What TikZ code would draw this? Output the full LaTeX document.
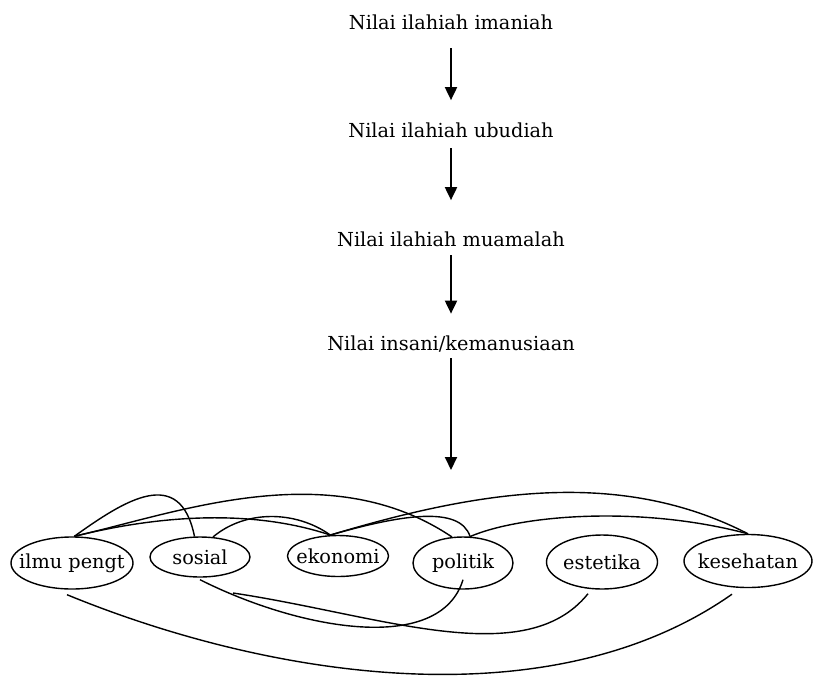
\documentclass[tikz,border=0pt]{standalone}
\usepackage{fontspec}
\setmainfont{DejaVu Serif}
\usetikzlibrary{arrows.meta,shapes.geometric}
\begin{document}
\begin{tikzpicture}[x=1pt,y=-1pt,
  lbl/.style={font=\fontsize{19.3}{23}\selectfont, inner sep=0pt, text=black},
  bubble/.style={ellipse, draw, line width=1.4pt, inner sep=0pt},
  flow/.style={line width=1.9pt, -{Triangle[width=12pt,length=13pt]}},
  link/.style={line width=1.4pt}]
\useasboundingbox (0,0) rectangle (813,675);

% top chain
\node[lbl, anchor=base] (t1) at (451,29) {Nilai ilahiah imaniah};
\node[lbl, anchor=base] (t2) at (451,137) {Nilai ilahiah ubudiah};
\node[lbl, anchor=base] (t3) at (451,246) {Nilai ilahiah muamalah};
\node[lbl, anchor=base] (t4) at (451,350.5) {Nilai insani/kemanusiaan};
\coordinate (aend) at (451,470);

\draw[flow] ([yshift=-19pt]t1.south) -- ([yshift=22pt]t2.north);
\draw[flow] ([yshift=-11pt]t2.south) -- ([yshift=31pt]t3.north);
\draw[flow] ([yshift=-9pt]t3.south) -- ([yshift=22pt]t4.north);
\draw[flow] ([yshift=-6pt]t4.south) -- (aend);

% ellipses
\node[bubble, minimum width=122pt, minimum height=52pt, label={[lbl]center:ilmu pengt}] (ilmu) at (72,563) {};
\node[bubble, minimum width=100pt, minimum height=40pt, label={[lbl]center:sosial}] (sosial) at (200,557) {};
\node[bubble, minimum width=101pt, minimum height=41pt, label={[lbl]center:ekonomi}] (ekonomi) at (338,556) {};
\node[bubble, minimum width=100pt, minimum height=52pt, label={[lbl]center:politik}] (politik) at (463,563) {};
\node[bubble, minimum width=111pt, minimum height=54pt, label={[lbl]center:estetika}] (estetika) at (602,562) {};
\node[bubble, minimum width=128pt, minimum height=53pt, label={[lbl]center:kesehatan}] (kesehatan) at (748,561) {};
\coordinate (sfree) at (233,593);

% upper links
\draw[link] (ilmu.85) .. controls (125,500) and (180,465) .. (sosial.105);
\draw[link] (ilmu.85) .. controls (180,512) and (330,455) .. (politik.113);
\draw[link] (ilmu.85) .. controls (140,520) and (240,505) .. (ekonomi.110);
\draw[link] (sosial.57) .. controls (245,510) and (295,510) .. (ekonomi.110);
\draw[link] (ekonomi.110) .. controls (480,490) and (620,468) .. (kesehatan.north);
\draw[link] (ekonomi.110) .. controls (400,515) and (460,505) .. (politik.75);
\draw[link] (politik.75) .. controls (520,515) and (640,505) .. (kesehatan.north);

% lower links
\draw[link] ([xshift=-5pt,yshift=-5pt]ilmu.south) .. controls (270,678) and (550,722) .. ([xshift=-16pt,yshift=-6pt]kesehatan.south);
\draw[link] ([yshift=-2pt]sosial.south) .. controls (300,630) and (440,655) .. ([yshift=10pt]politik.south);
\draw[link] (sfree) .. controls (380,615) and (525,672) .. ([xshift=-14pt,yshift=-4pt]estetika.south);
\end{tikzpicture}
\end{document}
